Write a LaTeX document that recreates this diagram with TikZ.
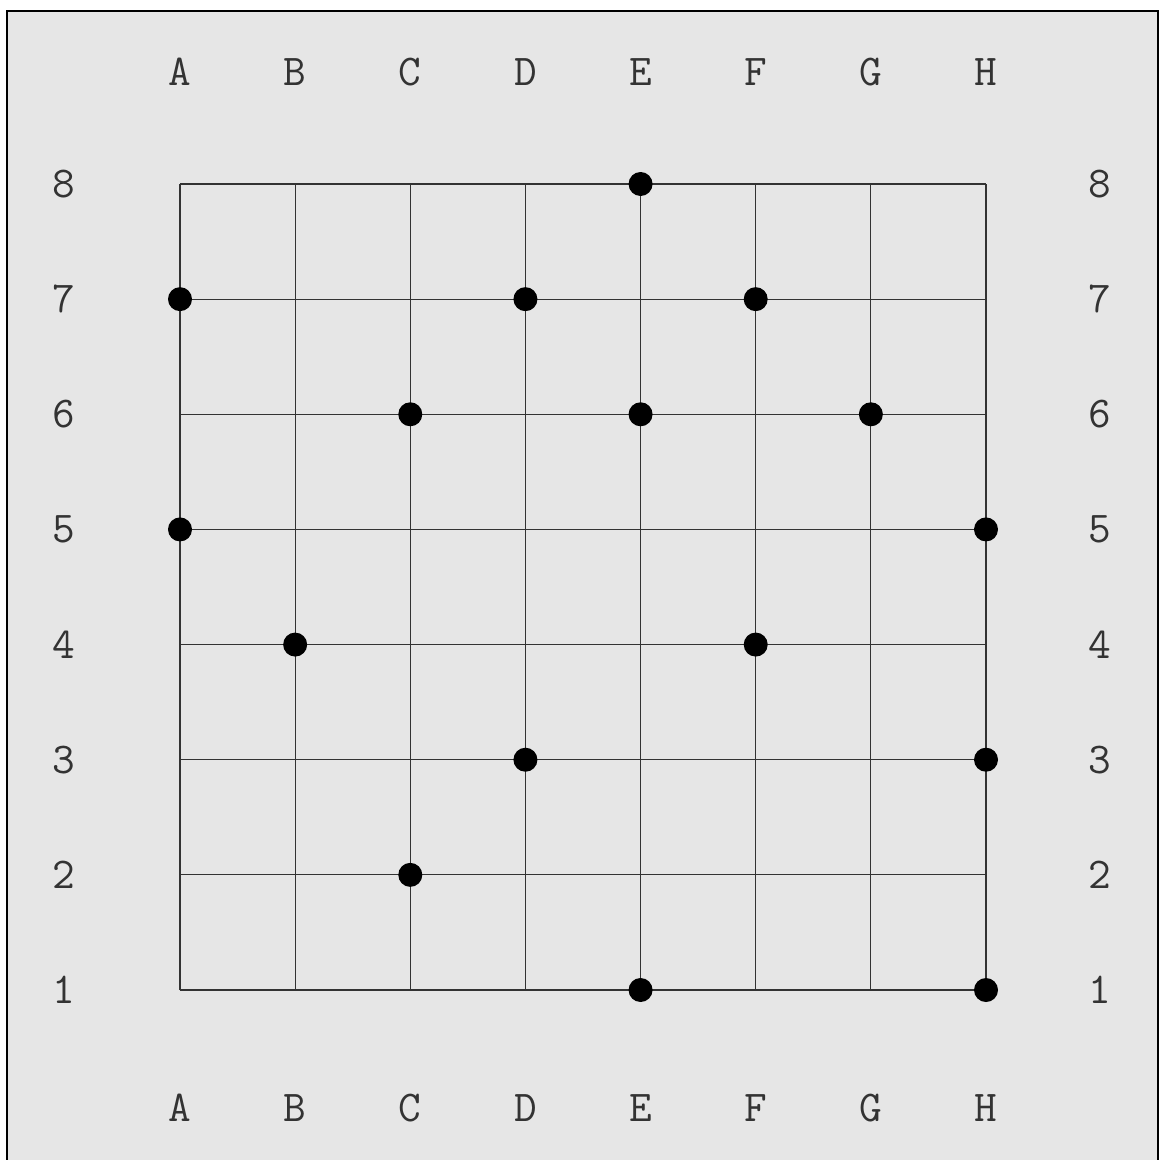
\documentclass[tikz,border=0pt]{standalone}
\definecolor{bgc}{HTML}{E6E6E6}
\definecolor{txt}{HTML}{333333}
\definecolor{gridc}{HTML}{333333}
\tikzset{
  lbl/.style={font=\ttfamily\fontsize{44}{44}\selectfont, text=txt, inner sep=0pt, anchor=base},
  gline/.style={draw=gridc, line width=1.1pt},
  stone/.style={circle, fill=black, minimum size=24pt, inner sep=0pt},
}
\begin{document}
\begin{tikzpicture}[x=1pt,y=1pt]
\useasboundingbox (0,0) rectangle (1163,-1160);
\clip (0,0) rectangle (1163,-1160);
\draw[fill=bgc, line width=2pt] (7,-11) rectangle (1158,-1175);
\def\sp{115.143}
% grid coordinates
\foreach \c [count=\i from 0] in {A,B,C,D,E,F,G,H}{
  \foreach \r in {1,...,8}{
    \coordinate (\c\r) at ({180+\i*\sp},{-184-(8-\r)*\sp});
  }
}
\foreach \c in {A,B,C,D,E,F,G,H}{
  \draw[gline] (\c1) -- (\c8);
}
\foreach \r in {1,...,8}{
  \draw[gline] (A\r) -- (H\r);
}
% labels
\foreach \c [count=\i from 0] in {A,B,C,D,E,F,G,H}{
  \node[lbl] (top\c) at ({180+\i*\sp},-85) {\c};
  \node[lbl] (bot\c) at ({180+\i*\sp},-1121) {\c};
}
\foreach \r in {1,...,8}{
  \node[lbl] (left\r) at (64,{-184-(8-\r)*\sp-13.5}) {\r};
  \node[lbl] (right\r) at (1100,{-184-(8-\r)*\sp-13.5}) {\r};
}
% stones
\foreach \p in {E8,A7,D7,F7,C6,E6,G6,A5,H5,B4,F4,D3,H3,C2,E1,H1}{
  \node[stone] (s\p) at (\p) {};
}
\end{tikzpicture}
\end{document}
